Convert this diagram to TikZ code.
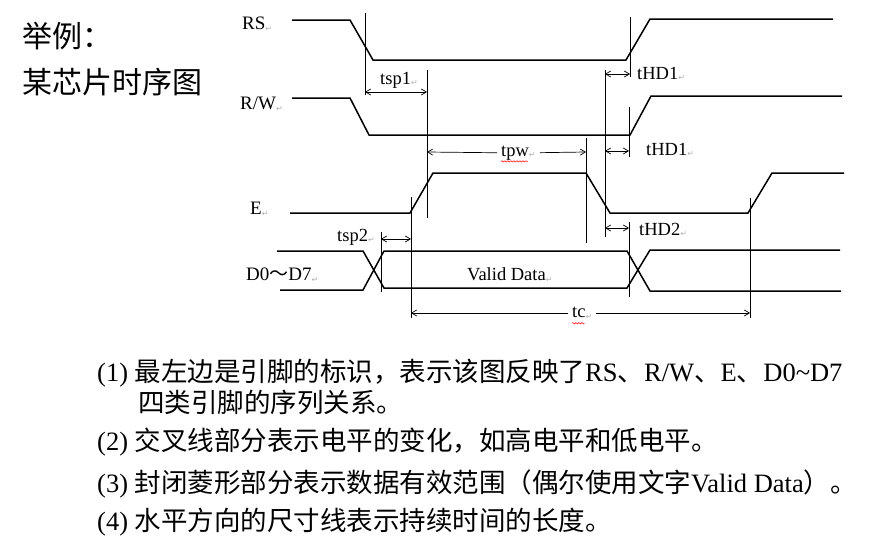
\documentclass[tikz,border=0pt]{standalone}
\usepackage{fontspec}
\setmainfont{Liberation Serif}
\newfontfamily\cjk{Noto Sans CJK SC}
\newfontfamily\symfont{DejaVu Sans}
\usetikzlibrary{arrows.meta,decorations.pathmorphing}
\newcommand{\parmk}{\raisebox{-0.2ex}{\symfont\fontsize{8}{8}\selectfont\color{gray!60}↵}}

\begin{document}
\begin{tikzpicture}[x=1pt, y=-1pt,
  wave/.style={line width=1.5pt},
  ext/.style={line width=0.7pt},
  dim/.style={<->, line width=0.7pt, >={Straight Barb[length=5pt,width=6pt]}},
  half/.style={->, line width=0.7pt, >={Straight Barb[length=5pt,width=6pt]}},
  sig/.style={anchor=west, inner sep=0pt, font=\fontsize{19}{19}\selectfont},
  lbl/.style={anchor=west, inner sep=1pt, font=\fontsize{18.5}{18.5}\selectfont},
  txt/.style={anchor=base west, inner sep=0pt, font=\fontsize{26.5}{26.5}\selectfont},
  wavy/.style={red, line width=0.5pt, decorate, decoration={snake, amplitude=0.7pt, segment length=3pt}}]

  \useasboundingbox (0,0) rectangle (881,554);

  % Title
  \node[anchor=west, inner sep=0pt, font=\cjk\fontsize{30}{30}\selectfont] (title1) at (22,36) {举例：};
  \node[anchor=west, inner sep=0pt, font=\cjk\fontsize{30}{30}\selectfont] (title2) at (22,82) {某芯片时序图};

  % Signal names
  \node[sig] (RS) at (242,24) {RS\parmk};
  \node[sig] (RW) at (240,104) {R/W\parmk};
  \node[sig] (E) at (250,209) {E\parmk};
  \node[sig] (D) at (246,275) {D0{\cjk ～}D7\parmk};

  % Waveforms
  \draw[wave] (292,20) -- (350,20) -- (373,60) -- (626,60) -- (650,19) -- (833,19);
  \draw[wave] (292,98) -- (350,98) -- (369,135) -- (630,135) -- (651,96) -- (842,96);
  \draw[wave] (290,213) -- (410,213) -- (433,173) -- (586,173) -- (610,213) -- (748,213) -- (772,173) -- (844,173);
  \draw[wave] (277,251) -- (363,251) -- (384,288) -- (627,288) -- (650,250) -- (840,250);
  \draw[wave] (280,290) -- (363,290) -- (384,251) -- (627,251) -- (650,291) -- (841,291);
  \node[lbl] (valid) at (466,275) {Valid Data\parmk};

  % Extension lines
  \coordinate (e1t) at (365,13);  \coordinate (e1b) at (365,95);
  \coordinate (e2t) at (427,70);  \coordinate (e2b) at (427,218);
  \coordinate (e3t) at (586,138); \coordinate (e3b) at (586,243);
  \coordinate (e4t) at (605,70);  \coordinate (e4b) at (605,237);
  \coordinate (e5t) at (630,17);  \coordinate (e5b) at (630,77);
  \coordinate (e6t) at (629,107); \coordinate (e6b) at (629,157);
  \coordinate (e7t) at (411,197); \coordinate (e7b) at (411,318);
  \coordinate (e8t) at (381,232); \coordinate (e8b) at (381,292);
  \coordinate (e9t) at (629,222); \coordinate (e9b) at (629,297);
  \coordinate (e10t) at (750,198); \coordinate (e10b) at (750,318);
  \draw[ext] (e1t) -- (e1b);
  \draw[ext] (e2t) -- (e2b);
  \draw[ext] (e3t) -- (e3b);
  \draw[ext] (e4t) -- (e4b);
  \draw[ext] (e5t) -- (e5b);
  \draw[ext] (e6t) -- (e6b);
  \draw[ext] (e7t) -- (e7b);
  \draw[ext] (e8t) -- (e8b);
  \draw[ext] (e9t) -- (e9b);
  \draw[ext] (e10t) -- (e10b);

  % Arrow ends
  \coordinate (tsp1a) at (365,92);  \coordinate (tsp1b) at (427,92);
  \coordinate (tpwa) at (427,152);  \coordinate (tpwb) at (586,152);
  \coordinate (thd1a) at (605,74);  \coordinate (thd1b) at (630,74);
  \coordinate (thd3a) at (605,151); \coordinate (thd3b) at (629,151);
  \coordinate (tsp2a) at (381,239); \coordinate (tsp2b) at (411,239);
  \coordinate (thd2a) at (605,228); \coordinate (thd2b) at (629,228);
  \coordinate (tca) at (411,313);   \coordinate (tcb) at (750,313);

  % Time labels
  \node[lbl] (tsp1) at (379,80) {tsp1\parmk};
  \node[lbl, inner sep=4pt] (tpw) at (497,153) {tpw\parmk};
  \node[lbl] (thd1) at (636,74) {tHD1\parmk};
  \node[lbl] (thd3) at (645,150) {tHD1\parmk};
  \node[lbl] (tsp2) at (336,237) {tsp2\parmk};
  \node[lbl] (thd2) at (638,230) {tHD2\parmk};
  \node[lbl, inner sep=4pt] (tc) at (568,313) {tc\parmk};

  % Dimension arrows
  \draw[dim] (tsp1a) -- (tsp1b);
  \draw[half] (tpw) -- (tpwa);
  \draw[half] (tpw) -- (tpwb);
  \draw[dim] (thd1a) -- (thd1b);
  \draw[dim] (thd3a) -- (thd3b);
  \draw[dim] (tsp2a) -- (tsp2b);
  \draw[dim] (thd2a) -- (thd2b);
  \draw[half] (tc) -- (tca);
  \draw[half] (tc) -- (tcb);

  % Spelling marks
  \draw[wavy] ([xshift=4pt,yshift=3pt]tpw.south west) -- ([xshift=-12pt,yshift=3pt]tpw.south east);
  \draw[wavy] ([xshift=4pt,yshift=0pt]tc.south west) -- ([xshift=-12pt,yshift=0pt]tc.south east);

  % Notes
  \node[txt] (item1) at (97,381) {(1) {\cjk 最左边是引脚的标识，表示该图反映了}RS{\cjk 、}R/W{\cjk 、}E{\cjk 、}D0\textasciitilde D7};
  \node[txt] (item1b) at (138,412) {\cjk 四类引脚的序列关系。};
  \node[txt] (item2) at (97,450) {(2) {\cjk 交叉线部分表示电平的变化，如高电平和低电平。}};
  \node[txt] (item3) at (97,492) {(3) {\cjk 封闭菱形部分表示数据有效范围（偶尔使用文字}Valid Data{\cjk ）。}};
  \node[txt] (item4) at (97,530) {(4) {\cjk 水平方向的尺寸线表示持续时间的长度。}};

\end{tikzpicture}
\end{document}
